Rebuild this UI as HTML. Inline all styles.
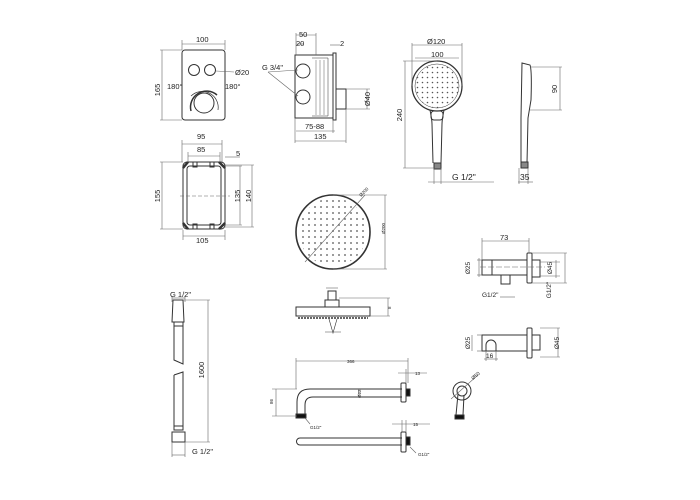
<!DOCTYPE html>
<html><head><meta charset="utf-8"><style>
html,body{margin:0;padding:0;background:#fff}
svg{display:block}
text{font-family:"Liberation Sans",sans-serif;fill:#222}
</style></head><body>
<svg width="700" height="500" viewBox="0 0 700 500" xmlns="http://www.w3.org/2000/svg">
<defs>
<pattern id="dots" width="5" height="5" patternUnits="userSpaceOnUse"><circle cx="2.5" cy="2.5" r="0.8" fill="#555"/></pattern>
<pattern id="dots2" width="6" height="6" patternUnits="userSpaceOnUse"><circle cx="3" cy="3" r="0.9" fill="#555"/></pattern>
</defs>
<g fill="none" stroke="#333" stroke-width="1">
<!-- thermostat front -->
<rect x="182" y="50" width="43" height="70" rx="3"/>
<circle cx="194" cy="70" r="5.5"/><circle cx="210" cy="70" r="5.5"/>
<circle cx="204" cy="103" r="10"/>
<path d="M191 111 A16 16 0 0 1 217 95" stroke-width="1.5"/>
<path d="M191 96 A16 16 0 0 1 218 110" stroke-width="0.7"/>
<g stroke-width="0.6" stroke="#666">
<line x1="182" y1="44" x2="225" y2="44"/><line x1="182" y1="40" x2="182" y2="50"/><line x1="225" y1="40" x2="225" y2="50"/>
<line x1="162" y1="50" x2="162" y2="120"/><line x1="160" y1="50" x2="182" y2="50"/><line x1="160" y1="120" x2="182" y2="120"/>
<line x1="216" y1="71" x2="234" y2="72"/>
</g>
<!-- mounting box -->
<rect x="183" y="162" width="42" height="67" rx="4"/>
<rect x="187" y="166" width="34" height="59" rx="3"/>
<path d="M183 168 l5 -6 M219 162 l6 6 M183 223 l5 6 M219 229 l6 -6" stroke-width="2.5"/>
<rect x="193" y="162" width="4" height="5"/><rect x="210" y="162" width="4" height="5"/>
<rect x="193" y="224" width="4" height="5"/><rect x="210" y="224" width="4" height="5"/>
<g stroke-width="0.6" stroke="#666">
<line x1="182" y1="144" x2="222" y2="144"/><line x1="182" y1="140" x2="182" y2="162"/><line x1="222" y1="140" x2="222" y2="162"/>
<line x1="188" y1="156" x2="220" y2="156"/><line x1="188" y1="152" x2="188" y2="162"/><line x1="220" y1="152" x2="220" y2="162"/>
<line x1="225" y1="157" x2="240" y2="157"/>
<line x1="162" y1="162" x2="162" y2="229"/><line x1="160" y1="162" x2="183" y2="162"/><line x1="160" y1="229" x2="183" y2="229"/>
<line x1="240" y1="166" x2="240" y2="225"/><line x1="225" y1="166" x2="242" y2="166"/><line x1="225" y1="225" x2="242" y2="225"/>
<line x1="252" y1="165" x2="252" y2="227"/><line x1="225" y1="165" x2="254" y2="165"/><line x1="225" y1="227" x2="254" y2="227"/>
<line x1="183" y1="236" x2="225" y2="236"/><line x1="183" y1="230" x2="183" y2="240"/><line x1="225" y1="230" x2="225" y2="240"/>
<line x1="180" y1="196" x2="230" y2="196" stroke-dasharray="4 2"/>
</g>
<!-- valve side -->
<rect x="295" y="55" width="38" height="63"/>
<path d="M312 58 h16 v58 h-16" stroke-width="0.5"/>
<path d="M316 60 v55 M320 60 v55 M324 60 v55" stroke-width="0.4"/>
<rect x="333" y="53" width="3" height="67"/>
<circle cx="303" cy="71" r="7"/><circle cx="303" cy="97" r="7"/>
<rect x="336" y="89" width="10" height="20"/>
<g stroke-width="0.6" stroke="#666">
<line x1="296" y1="35" x2="316" y2="35"/><line x1="296" y1="33" x2="296" y2="55"/><line x1="316" y1="33" x2="316" y2="55"/>
<line x1="296" y1="44" x2="304" y2="44"/>
<line x1="330" y1="45" x2="340" y2="45"/>
<line x1="268" y1="72" x2="298" y2="70"/><line x1="268" y1="72" x2="298" y2="96"/>
<line x1="367" y1="89" x2="367" y2="109"/><line x1="346" y1="89" x2="370" y2="89"/><line x1="346" y1="109" x2="370" y2="109"/>
<line x1="296" y1="131" x2="335" y2="131"/><line x1="333" y1="120" x2="333" y2="133"/>
<line x1="295" y1="141" x2="346" y2="141"/><line x1="295" y1="118" x2="295" y2="143"/><line x1="346" y1="109" x2="346" y2="143"/>
</g>
<!-- hand shower -->
<circle cx="437" cy="86" r="25" stroke-width="1.3"/>
<circle cx="437" cy="86" r="22" fill="url(#dots)" stroke-width="0.5"/>
<path d="M430 110 Q432 120 432 124 L433 163 M444 110 Q442 120 442 124 L441 163"/>
<rect x="431" y="111" width="12" height="9" rx="3"/>
<rect x="434" y="163" width="7" height="6" fill="#888"/>
<g stroke-width="0.6" stroke="#666">
<line x1="412" y1="45" x2="462" y2="45"/><line x1="412" y1="43" x2="412" y2="86"/><line x1="462" y1="43" x2="462" y2="86"/>
<line x1="415" y1="58" x2="459" y2="58"/>
<line x1="405" y1="61" x2="405" y2="168"/><line x1="403" y1="61" x2="437" y2="61"/><line x1="403" y1="168" x2="434" y2="168"/>
<line x1="428" y1="182" x2="494" y2="182"/><line x1="434" y1="168" x2="434" y2="184"/><line x1="441" y1="168" x2="441" y2="184"/>
</g>
<path d="M522 63 L530 65 Q532 70 531 100 L528 118 L527 163 L521 163 L521 118 Z"/>
<rect x="521" y="162" width="7" height="6" fill="#888"/>
<g stroke-width="0.6" stroke="#666">
<line x1="530" y1="67" x2="562" y2="67"/><line x1="530" y1="110" x2="562" y2="110"/><line x1="560" y1="67" x2="560" y2="110"/>
<line x1="518" y1="182" x2="533" y2="182"/><line x1="519" y1="168" x2="519" y2="184"/><line x1="528" y1="168" x2="528" y2="184"/>
</g>
<!-- rain shower top -->
<circle cx="333" cy="232" r="37" stroke-width="1.6"/>
<circle cx="333" cy="232" r="34" fill="url(#dots2)" stroke="none"/>
<g stroke-width="0.6" stroke="#666">
<line x1="305" y1="262" x2="365" y2="195"/>
<line x1="333" y1="195" x2="387" y2="195"/><line x1="333" y1="269" x2="387" y2="269"/><line x1="385" y1="195" x2="385" y2="269"/>
</g>
<!-- rain shower side -->
<rect x="296" y="307" width="74" height="9"/>
<line x1="298" y1="318" x2="368" y2="318" stroke-dasharray="2 1" stroke-width="1.5"/>
<rect x="325" y="300" width="14" height="7"/>
<rect x="328" y="291" width="8" height="9"/>
<path d="M329 319 L333 333 L337 319" stroke-width="0.6"/>
<g stroke-width="0.6" stroke="#666">
<line x1="339" y1="298" x2="390" y2="298"/><line x1="370" y1="316" x2="390" y2="316"/><line x1="388" y1="298" x2="388" y2="316"/>
<line x1="326" y1="288" x2="338" y2="288"/><line x1="325" y1="332" x2="341" y2="332"/>
</g>
<!-- wall connector 1 -->
<rect x="482" y="260" width="45" height="15"/>
<line x1="492" y1="260" x2="492" y2="275"/>
<rect x="527" y="253" width="5" height="30" rx="1"/>
<rect x="532" y="260" width="8" height="17"/>
<rect x="501" y="275" width="9" height="9"/>
<g stroke-width="0.6" stroke="#666">
<line x1="482" y1="241" x2="529" y2="241"/><line x1="482" y1="238" x2="482" y2="260"/><line x1="529" y1="238" x2="529" y2="253"/>
<line x1="477" y1="260" x2="482" y2="260"/><line x1="477" y1="275" x2="482" y2="275"/><line x1="479" y1="258" x2="479" y2="277"/>
<line x1="540" y1="262" x2="560" y2="262"/><line x1="540" y1="276" x2="560" y2="276"/><line x1="556" y1="260" x2="556" y2="278"/>
<line x1="532" y1="253" x2="567" y2="253"/><line x1="532" y1="283" x2="567" y2="283"/><line x1="565" y1="253" x2="565" y2="283"/>
<line x1="500" y1="297" x2="515" y2="297"/><line x1="480" y1="267" x2="545" y2="267" stroke-dasharray="6 2"/>
</g>
<!-- wall connector 2 -->
<rect x="482" y="335" width="45" height="16"/>
<path d="M486 351 v-6 a5 5 0 0 1 10 0 v6"/>
<rect x="527" y="328" width="5" height="30" rx="1"/>
<rect x="532" y="335" width="8" height="15"/>
<g stroke-width="0.6" stroke="#666">
<line x1="477" y1="335" x2="482" y2="335"/><line x1="477" y1="351" x2="482" y2="351"/><line x1="472" y1="335" x2="472" y2="351"/>
<line x1="486" y1="351" x2="486" y2="361"/><line x1="496" y1="351" x2="496" y2="361"/><line x1="484" y1="359" x2="498" y2="359"/>
<line x1="540" y1="328" x2="560" y2="328"/><line x1="540" y1="357" x2="560" y2="357"/><line x1="558" y1="328" x2="558" y2="357"/>
</g>
<!-- hose -->
<path d="M173 300 L172 322 L184 322 L183 300 Z"/>
<rect x="174" y="322" width="9" height="4"/>
<path d="M174 326 L174 360 L183 364 L183 326"/>
<path d="M174 375 L183 372 L183 430 M174 375 L174 430"/>
<rect x="174" y="426" width="9" height="4"/>
<path d="M172 432 L172 442 L185 442 L185 432 Z"/>
<g stroke-width="0.6" stroke="#666">
<line x1="172" y1="298" x2="185" y2="298"/><line x1="172" y1="296" x2="172" y2="302"/><line x1="185" y1="296" x2="185" y2="302"/>
<line x1="208" y1="300" x2="208" y2="442"/><line x1="183" y1="300" x2="210" y2="300"/><line x1="185" y1="442" x2="210" y2="442"/>
<line x1="172" y1="455" x2="185" y2="455"/><line x1="172" y1="442" x2="172" y2="457"/><line x1="185" y1="442" x2="185" y2="457"/>
</g>
<!-- arm 1 -->
<path d="M402 389 L310 389 Q297 389 297 402 L297 415 M402 397 L313 397 Q305 397 305 405 L305 415"/>
<rect x="296" y="414" width="10" height="4" fill="#111"/>
<rect x="401" y="383" width="5" height="19" rx="1"/>
<rect x="406" y="389" width="4" height="7" fill="#111"/>
<g stroke-width="0.6" stroke="#666">
<line x1="296" y1="361" x2="408" y2="361"/><line x1="296" y1="358" x2="296" y2="389"/><line x1="408" y1="358" x2="408" y2="383"/>
<line x1="398" y1="373" x2="427" y2="373"/><line x1="406" y1="369" x2="406" y2="383"/>
<line x1="272" y1="389" x2="297" y2="389"/><line x1="272" y1="416" x2="297" y2="416"/><line x1="276" y1="389" x2="276" y2="416"/>
<line x1="359" y1="389" x2="359" y2="397"/>
<line x1="305" y1="418" x2="310" y2="424"/>
</g>
<!-- arm 2 -->
<path d="M402 438 L300 438 A3.5 3.5 0 0 0 300 445 L402 445"/>
<rect x="401" y="432" width="5" height="20" rx="1"/>
<rect x="406" y="437" width="4" height="8" fill="#111"/>
<g stroke-width="0.6" stroke="#666">
<line x1="392" y1="424" x2="430" y2="424"/><line x1="402" y1="420" x2="402" y2="432"/><line x1="406" y1="420" x2="406" y2="432"/>
<line x1="410" y1="447" x2="416" y2="453"/>
</g>
<!-- holder -->
<circle cx="462" cy="391" r="9"/>
<circle cx="462" cy="391" r="5"/>
<path d="M458 394 L456 415 M464 395 L463 415"/>
<rect x="455" y="415" width="9" height="4" fill="#111"/>
<line x1="451" y1="399" x2="478" y2="375" stroke-width="0.6" stroke="#666"/>
</g>
<g font-size="7.5">
<text x="196" y="42">100</text>
<text x="160" y="90" transform="rotate(-90 160 90)" text-anchor="middle">165</text>
<text x="235" y="75">Ø20</text>
<text x="167" y="89">180°</text>
<text x="225" y="89">180°</text>
<text x="197" y="139">95</text>
<text x="197" y="152">85</text>
<text x="236" y="156">5</text>
<text x="160" y="196" transform="rotate(-90 160 196)" text-anchor="middle">155</text>
<text x="240" y="196" transform="rotate(-90 240 196)" text-anchor="middle">135</text>
<text x="251" y="196" transform="rotate(-90 251 196)" text-anchor="middle">140</text>
<text x="196" y="243">105</text>
<text x="299" y="37">50</text>
<text x="296" y="46">20</text>
<text x="340" y="46">2</text>
<text x="262" y="70">G 3/4"</text>
<text x="370" y="99" transform="rotate(-90 370 99)" text-anchor="middle">Ø40</text>
<text x="305" y="129">75-88</text>
<text x="314" y="139">135</text>
<text x="427" y="44">Ø120</text>
<text x="431" y="57">100</text>
<text x="402" y="115" transform="rotate(-90 402 115)" text-anchor="middle">240</text>
<text x="452" y="180" font-size="8.5">G 1/2"</text>
<text x="557" y="89" transform="rotate(-90 557 89)" text-anchor="middle">90</text>
<text x="520" y="180" font-size="8.5">35</text>
<text x="500" y="240">73</text>
<text x="470" y="268" transform="rotate(-90 470 268)" text-anchor="middle" font-size="6.5">Ø25</text>
<text x="552" y="268" transform="rotate(-90 552 268)" text-anchor="middle" font-size="6.5">Ø45</text>
<text x="551" y="290" transform="rotate(-90 551 290)" text-anchor="middle" font-size="6.5">G1/2"</text>
<text x="482" y="297" font-size="6.5">G1/2"</text>
<text x="470" y="343" transform="rotate(-90 470 343)" text-anchor="middle" font-size="6.5">Ø25</text>
<text x="486" y="358" font-size="6.5">16</text>
<text x="559" y="343" transform="rotate(-90 559 343)" text-anchor="middle" font-size="6.5">Ø45</text>
<text x="170" y="297">G 1/2"</text>
<text x="204" y="370" transform="rotate(-90 204 370)" text-anchor="middle">1600</text>
<text x="192" y="454">G 1/2"</text>
<text x="473" y="380" transform="rotate(-40 473 380)" font-size="5">Ø50</text>
</g>
<g font-size="4.5" fill="#333">
<text x="347" y="363">366</text><text x="415" y="375">13</text><text x="413" y="426">15</text>
<text x="273" y="404" transform="rotate(-90 273 404)">86</text>
<text x="361" y="398" transform="rotate(-90 361 398)">Ø22</text>
<text x="310" y="429">G1/2"</text><text x="418" y="456">G1/2"</text>
<text x="385" y="234" transform="rotate(-90 385 234)">Ø200</text>
<text x="361" y="197" transform="rotate(-45 361 197)">Ø200</text>
<text x="391" y="309" transform="rotate(-90 391 309)">8</text>
</g>
</svg>
</body></html>
